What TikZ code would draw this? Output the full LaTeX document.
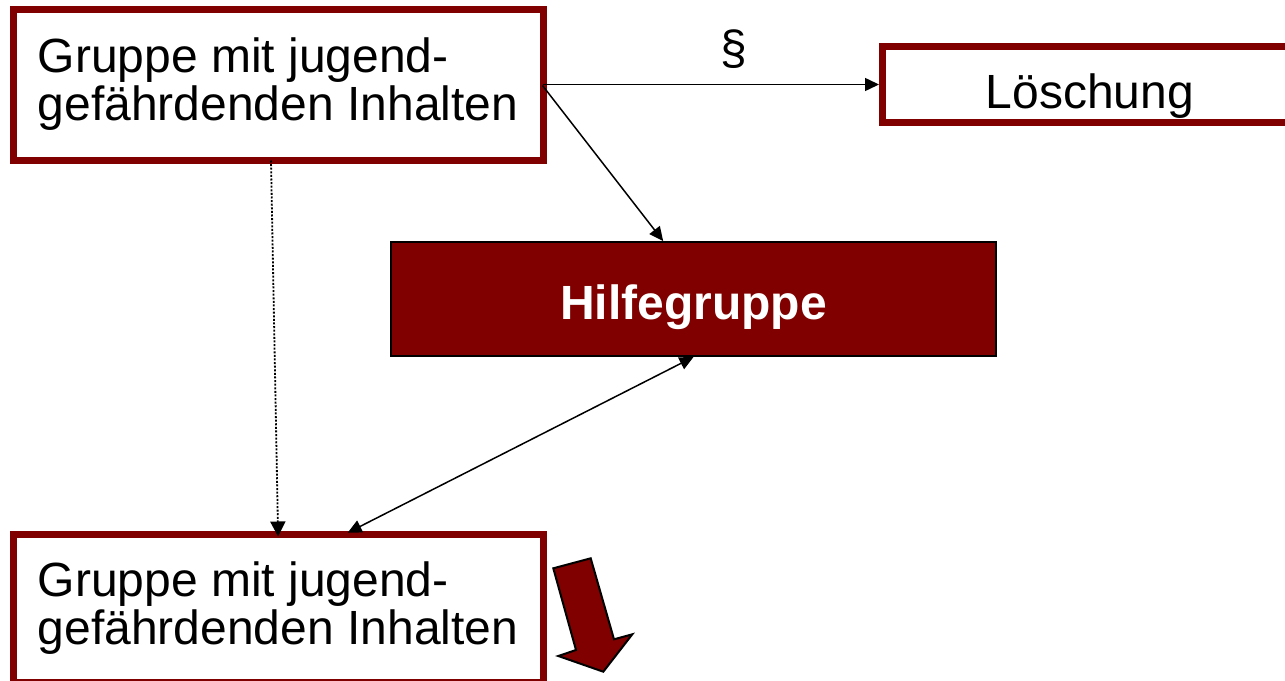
\documentclass[tikz,border=0pt]{standalone}
\usepackage{fontspec}
\setmainfont{Liberation Sans}
\usetikzlibrary{arrows.meta,calc}
\definecolor{dred}{RGB}{128,0,0}
\begin{document}
\begin{tikzpicture}[x=1pt,y=-1pt,
  bigtext/.style={font=\fontsize{48pt}{48pt}\selectfont},
  box/.style={draw=dred, line width=7pt, fill=white, inner sep=0pt, bigtext},
  helpbox/.style={draw=black, line width=2pt, fill=dred, inner sep=0pt, text=white,
    font=\fontsize{48pt}{48pt}\selectfont\bfseries},
  conn/.style={line width=1.5pt, -{Triangle[length=14pt,width=13pt]}},
  dconn/.style={line width=1.5pt, {Triangle[length=14pt,width=13pt]}-{Triangle[length=14pt,width=13pt]}},
  dotconn/.style={line width=1.8pt, dash pattern=on 2pt off 1.6pt, -{Triangle[length=15pt,width=15pt]}},
  fatarrow/.style={fill=dred, draw=black, line width=2pt, line join=miter}]
\useasboundingbox (0,0) rectangle (1285,680);

\node[box, minimum width=530pt, minimum height=151pt, align=left] (g1) at (278,84.5)
  {Gruppe mit jugend-\\gefährdenden Inhalten};
\node[box, minimum width=530pt, minimum height=148pt, align=left] (g2) at (278,608)
  {Gruppe mit jugend-\\gefährdenden Inhalten};
\node[box, minimum width=415pt, minimum height=75.5pt, text height=48pt, text depth=0pt] (loe) at (1090,84.25)
  {Löschung};
\node[helpbox, minimum width=605pt, minimum height=114pt, text height=41pt, text depth=0pt] (hilfe) at (693.5,299)
  {Hilfegruppe};

\draw[conn] ($(g1.east)+(-4,0)$) --
  node[pos=0.57, anchor=base, yshift=20pt, bigtext] (par) {§}
  (loe.west |- g1.east);
\draw[conn] ($(g1.east)+(-4,1)$) -- ($(hilfe.north west)!0.45!(hilfe.north east)$);
\draw[dconn, shorten >=-5pt] ($(hilfe.south west)!0.5!(hilfe.south east)$) --
  ($(g2.north west)!0.638!(g2.north east)$);
\draw[dotconn, shorten >=-6pt] ($(g1.south)+(-7,-3)$) -- (g2.north);

\draw[fatarrow] (553.3,568.3) -- (590.7,558.3) -- (614,639.3) -- (632.3,634.3)
  -- (603.3,671.7) -- (558.3,656) -- (576,650) -- cycle;
\end{tikzpicture}
\end{document}
